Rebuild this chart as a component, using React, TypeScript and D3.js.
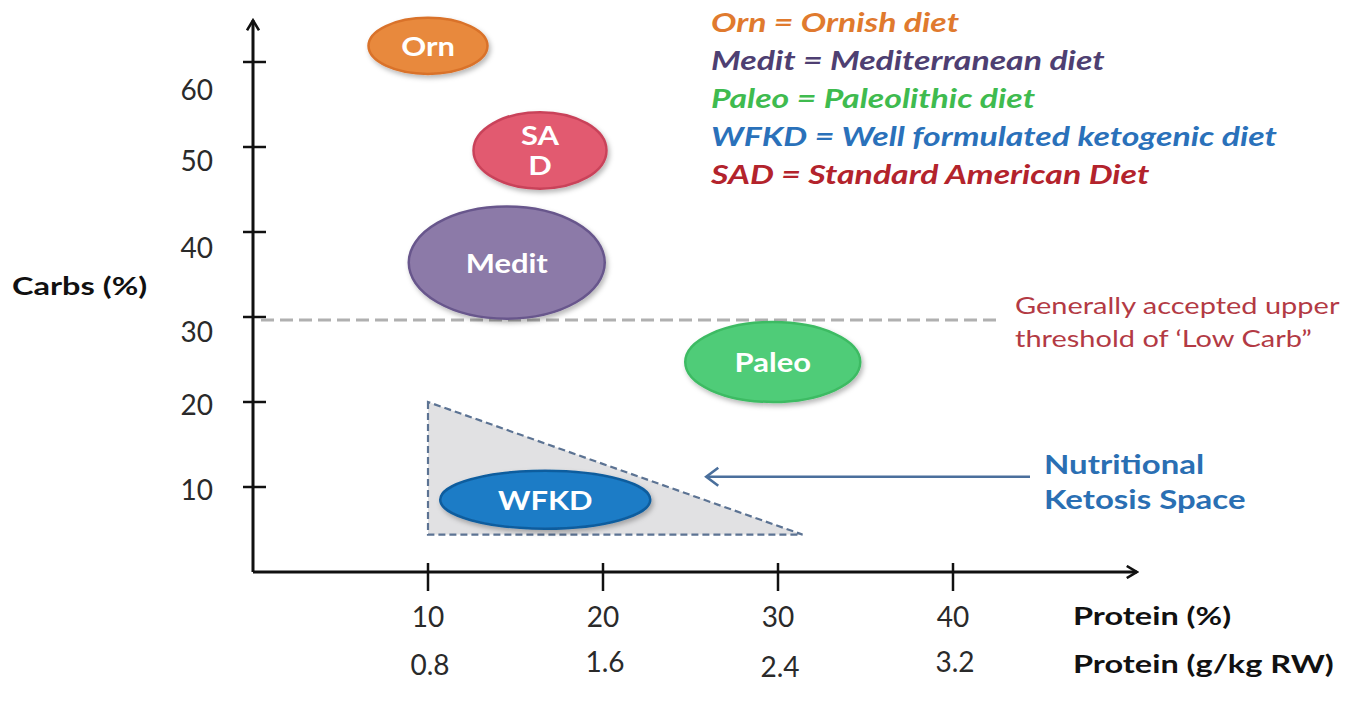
import React, { useRef, useEffect } from 'react';
import * as d3 from 'd3';

// diet bubbles: centre in protein % / carbs %, radii in the same units
const dietNames = ['Orn', 'SAD', 'Medit', 'Paleo', 'WFKD'];
const dietLabels = [['Orn'], ['SA', 'D'], ['Medit'], ['Paleo'], ['WFKD']];
const dietProtein = [10, 16.4, 14.5, 29.7, 16.7];
const dietCarbs = [61.9, 49.6, 36.4, 24.7, 8.5];
const dietSpreadProtein = [3.4, 3.8, 5.6, 5.0, 6.0];
const dietSpreadCarbs = [3.3, 4.5, 6.6, 4.7, 3.4];
const dietFill = ['#e8893c', '#e25a6f', '#8c7aa8', '#50cc78', '#1b7cc6'];
const dietStroke = ['#d9722a', '#c9435a', '#68578c', '#3dbb63', '#115d9e'];

const carbTicks = [10, 20, 30, 40, 50, 60];
const carbLabelNudge = [2, 2, 14, 15, 13, 27];
const proteinTicks = [10, 20, 30, 40];
const proteinGkg = ['0.8', '1.6', '2.4', '3.2'];
const proteinGkgNudge = [48, 45, 50, 45];

// nutritional ketosis space (protein %, carbs %)
const ketoX = [10, 10, 31.4];
const ketoY = [20, 4.4, 4.4];

const lowCarbThreshold = 30;

const legendText = [
  'Orn = Ornish diet',
  'Medit = Mediterranean diet',
  'Paleo = Paleolithic diet',
  'WFKD = Well formulated ketogenic diet',
  'SAD = Standard American Diet',
];
const legendColor = ['#e07a2e', '#4e3f72', '#3fbb4f', '#2a71ba', '#b3232c'];

const font = 'Lato, "Open Sans", sans-serif';

export default function App() {
  const svgRef = useRef<SVGSVGElement>(null);

  useEffect(() => {
    if (!svgRef.current) return;
    const svg = d3.select(svgRef.current);
    svg.selectAll('*').remove();

    const x = d3.scaleLinear().domain([0, 10]).range([253, 428]);
    const y = d3.scaleLinear().domain([0, 10]).range([572, 487]);
    const kx = (v: number) => x(v) - x(0);
    const ky = (v: number) => y(0) - y(v);

    // the slide is stretched sideways, so text gets a horizontal scale
    const label = (g: any, px: number, py: number, s: string, sx: number, anchor = 'start') =>
      g.append('text').attr('transform', `translate(${px},${py}) scale(${sx},1)`)
        .attr('text-anchor', anchor).attr('dominant-baseline', 'central').text(s);

    const defs = svg.append('defs');
    const f = defs.append('filter').attr('id', 'shadow')
      .attr('x', '-20%').attr('y', '-20%').attr('width', '140%').attr('height', '150%');
    f.append('feDropShadow').attr('dx', 2).attr('dy', 3).attr('stdDeviation', 2.5)
      .attr('flood-color', '#000').attr('flood-opacity', 0.28);
    defs.append('marker').attr('id', 'head').attr('viewBox', '0 0 16 22')
      .attr('refX', 14).attr('refY', 11).attr('markerWidth', 16).attr('markerHeight', 22)
      .attr('markerUnits', 'userSpaceOnUse').attr('orient', 'auto')
      .append('path').attr('d', 'M2,2 L14,11 L2,20').attr('fill', 'none')
      .attr('stroke', '#4a6f9c').attr('stroke-width', 2.6);
    defs.append('marker').attr('id', 'axhead').attr('viewBox', '0 0 14 14')
      .attr('refX', 12).attr('refY', 7).attr('markerWidth', 14).attr('markerHeight', 14)
      .attr('markerUnits', 'userSpaceOnUse').attr('orient', 'auto')
      .append('path').attr('d', 'M2,1 L12,7 L2,13').attr('fill', 'none')
      .attr('stroke', '#111').attr('stroke-width', 2.6);

    // axes
    const ax = svg.append('g').attr('stroke', '#111').attr('stroke-width', 3);
    ax.append('line').attr('x1', x(0)).attr('y1', y(0)).attr('x2', x(50.5)).attr('y2', y(0))
      .attr('marker-end', 'url(#axhead)');
    ax.append('line').attr('x1', x(0)).attr('y1', y(0)).attr('x2', x(0)).attr('y2', y(64.9))
      .attr('marker-end', 'url(#axhead)');
    carbTicks.forEach((t) => {
      ax.append('line').attr('x1', x(0) - 10).attr('x2', x(0) + 13)
        .attr('y1', y(t)).attr('y2', y(t)).attr('stroke-width', 2.5);
    });
    proteinTicks.forEach((t) => {
      ax.append('line').attr('x1', x(t)).attr('x2', x(t))
        .attr('y1', y(0) - 9).attr('y2', y(0) + 19).attr('stroke-width', 2.5);
    });

    const tl = svg.append('g').attr('font-family', font).attr('font-size', 28).attr('fill', '#2a2a2a');
    carbTicks.forEach((t, i) => {
      label(tl, x(0) - 40, y(t) + carbLabelNudge[i], String(t), 1, 'end');
    });
    proteinTicks.forEach((t, i) => {
      label(tl, x(t), y(0) + 44, String(t), 1, 'middle');
      label(tl, x(t) + 2, y(0) + 44 + proteinGkgNudge[i], proteinGkg[i], 1, 'middle');
    });

    const titles = svg.append('g').attr('font-family', font).attr('font-size', 25)
      .attr('font-weight', 'bold').attr('fill', '#111');
    label(titles, 12, 285, 'Carbs (%)', 1.3);
    label(titles, 1073, 615, 'Protein (%)', 1.3);
    label(titles, 1073, 663, 'Protein (g/kg RW)', 1.3);

    // low carb threshold
    svg.append('line').attr('x1', x(0) + 8).attr('x2', x(42.7))
      .attr('y1', y(lowCarbThreshold) + 3).attr('y2', y(lowCarbThreshold) + 3)
      .attr('stroke', '#b0b0b0').attr('stroke-width', 3).attr('stroke-dasharray', '13 6');

    // ketosis space
    const tri = d3.line<number>().x((i) => x(ketoX[i])).y((i) => y(ketoY[i]));
    svg.append('path').attr('d', tri([0, 1, 2]) + 'Z')
      .attr('fill', '#e1e1e3').attr('stroke', '#5c7393').attr('stroke-width', 2.2)
      .attr('stroke-dasharray', '7 4');

    // bubbles
    const bubbles = svg.append('g').selectAll('g').data(dietNames).join('g')
      .attr('transform', (_, i) => `translate(${x(dietProtein[i])},${y(dietCarbs[i])})`);
    bubbles.append('ellipse')
      .attr('rx', (_, i) => kx(dietSpreadProtein[i]))
      .attr('ry', (_, i) => ky(dietSpreadCarbs[i]))
      .attr('fill', (_, i) => dietFill[i])
      .attr('stroke', (_, i) => dietStroke[i])
      .attr('stroke-width', 2.5)
      .attr('filter', 'url(#shadow)');
    bubbles.each(function (_, i) {
      const lines = dietLabels[i];
      const g = d3.select(this).append('g').attr('font-family', font).attr('font-weight', 'bold')
        .attr('font-size', 26).attr('fill', '#fff');
      lines.forEach((l, j) => {
        label(g, 0, (j - (lines.length - 1) / 2) * 30, l, 1.19, 'middle');
      });
    });

    // arrow + annotation
    svg.append('line').attr('x1', 1030).attr('x2', x(25.9)).attr('y1', y(11.2)).attr('y2', y(11.2))
      .attr('stroke', '#4a6f9c').attr('stroke-width', 2.5).attr('marker-end', 'url(#head)');
    const nk = svg.append('g').attr('font-family', font).attr('font-weight', 'bold')
      .attr('font-size', 27).attr('fill', '#2a6fb3');
    label(nk, 1044, 463, 'Nutritional', 1.22);
    label(nk, 1044, 498, 'Ketosis Space', 1.22);

    const gc = svg.append('g').attr('font-family', font).attr('font-size', 23).attr('fill', '#b33a44');
    label(gc, 1015, 305, 'Generally accepted upper', 1.26);
    label(gc, 1015, 338, 'threshold of \u2018Low Carb\u201D', 1.26);

    // legend
    const lg = svg.append('g').attr('font-family', font).attr('font-weight', 'bold')
      .attr('font-style', 'italic').attr('font-size', 26);
    legendText.forEach((t, i) => {
      label(lg, 711, 22 + i * 38, t, 1.3).attr('fill', legendColor[i]);
    });
  }, []);

  return (
    <div style={{ position: 'fixed', top: 0, left: 0, width: 1365, height: 718, background: '#fff' }}>
      <svg ref={svgRef} width={1365} height={718} />
    </div>
  );
}
